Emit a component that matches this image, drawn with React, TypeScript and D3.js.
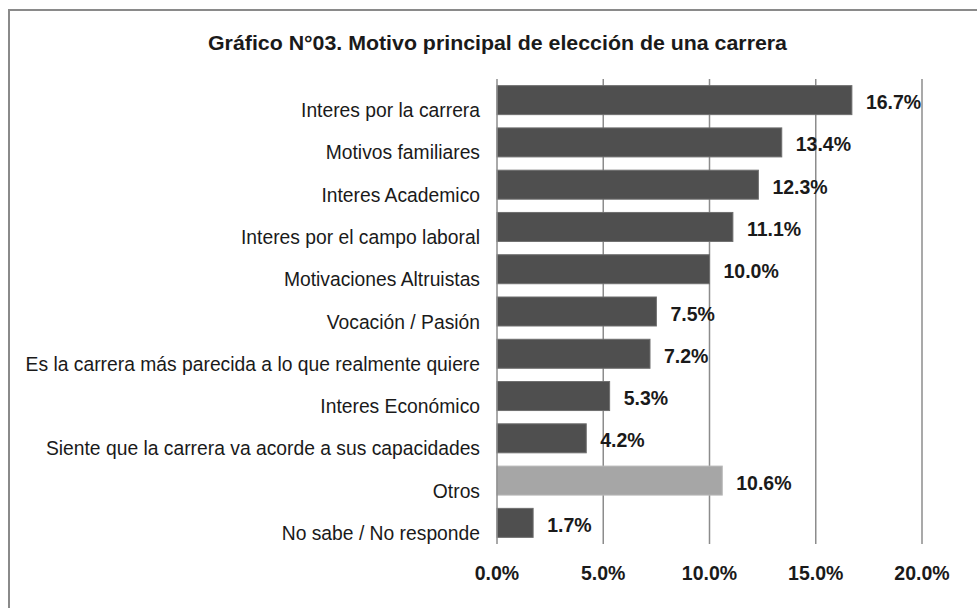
import React from "react";
import * as d3 from "d3";

const title = "Gráfico N°03. Motivo principal de elección de una carrera";

const categories = [
  "Interes por la carrera",
  "Motivos familiares",
  "Interes Academico",
  "Interes por el campo laboral",
  "Motivaciones Altruistas",
  "Vocación / Pasión",
  "Es la carrera más parecida a lo que realmente quiere",
  "Interes Económico",
  "Siente que la carrera va acorde a sus capacidades",
  "Otros",
  "No sabe / No responde",
];

const values = [16.7, 13.4, 12.3, 11.1, 10.0, 7.5, 7.2, 5.3, 4.2, 10.6, 1.7];

const highlighted = ["Otros"];

const ticks = [0, 5, 10, 15, 20];

const W = 977;
const H = 608;
const plot = { left: 497, right: 922, top: 79, bottom: 544 };

export default function App() {
  const x = d3.scaleLinear().domain([0, 20]).range([plot.left, plot.right]);
  const y = d3
    .scaleBand<string>()
    .domain(categories)
    .range([plot.top, plot.bottom])
    .paddingInner(0.314)
    .paddingOuter(0.157);
  const fmt = (v: number) => d3.format(".1f")(v) + "%";
  const font = "'Liberation Sans', Arial, sans-serif";

  return (
    <svg
      width={W}
      height={H}
      style={{ position: "absolute", left: 0, top: 0, background: "#fff" }}
    >
      <rect x={0} y={0} width={W} height={H} fill="#fff" />
      <rect
        x={9}
        y={10}
        width={W + 20}
        height={H + 20}
        fill="#fff"
        stroke="#8a8a8a"
        strokeWidth={2}
      />
      <text
        x={497.5}
        y={50}
        textAnchor="middle"
        fontFamily={font}
        fontWeight="bold"
        fontSize={20}
        fill="#1a1a1a"
        textLength={579}
        lengthAdjust="spacingAndGlyphs"
      >
        {title}
      </text>

      {ticks.slice(1).map((t) => (
        <line
          key={"g" + t}
          x1={x(t)}
          x2={x(t)}
          y1={plot.top}
          y2={plot.bottom}
          stroke="#8c8c8c"
          strokeWidth={1.5}
        />
      ))}

      {categories.map((c, i) => (
        <rect
          key={"b" + c}
          x={x(0)}
          y={y(c)}
          width={x(values[i]) - x(0)}
          height={y.bandwidth()}
          fill={highlighted.includes(c) ? "#a6a6a6" : "#4f4f4f"}
          stroke={highlighted.includes(c) ? "#b8b8b8" : "#6e6e6e"}
          strokeWidth={1}
        />
      ))}

      <line
        x1={x(0)}
        x2={x(0)}
        y1={plot.top}
        y2={plot.bottom}
        stroke="#8c8c8c"
        strokeWidth={1.5}
      />

      {categories.map((c, i) => {
        const cy = (y(c) as number) + y.bandwidth() / 2;
        return (
          <g key={"l" + c}>
            <text
              x={480}
              y={cy + 17}
              textAnchor="end"
              fontFamily={font}
              fontSize={19.3}
              fill="#1a1a1a"
            >
              {c}
            </text>
            <text
              x={x(values[i]) + 14}
              y={cy + 9}
              fontFamily={font}
              fontWeight="bold"
              fontSize={19.5}
              fill="#1a1a1a"
            >
              {fmt(values[i])}
            </text>
          </g>
        );
      })}

      {ticks.map((t) => (
        <text
          key={"t" + t}
          x={x(t)}
          y={580}
          textAnchor="middle"
          fontFamily={font}
          fontWeight="bold"
          fontSize={19.5}
          fill="#1a1a1a"
        >
          {fmt(t)}
        </text>
      ))}
    </svg>
  );
}
